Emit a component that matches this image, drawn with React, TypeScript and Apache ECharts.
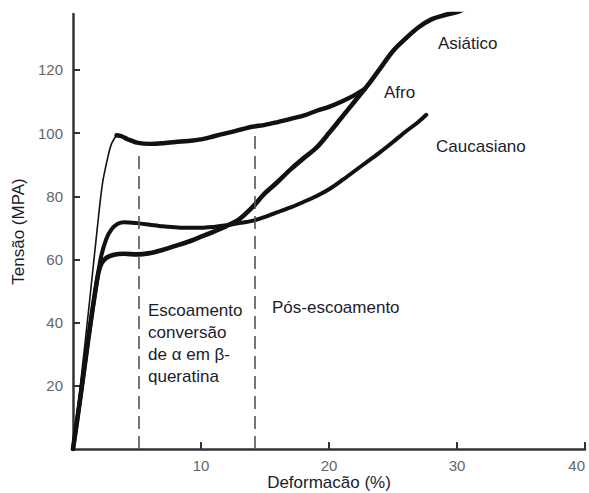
import React, { useEffect, useRef } from "react";
import * as echarts from "echarts";

// Stress–strain curves of hair fibres (strain %, stress MPa)
const afroRise: [number, number][] = [
  [0, 0], [0.6, 21], [1.3, 47], [1.9, 70], [2.3, 84], [2.7, 92], [3.0, 96.5], [3.4, 99.3],
];
const afroPlateau: [number, number][] = [
  [3.4, 99.3], [3.8, 99], [4.3, 98], [5, 97], [6, 96.6], [7, 96.8], [8, 97.2], [9, 97.5],
  [10, 98], [11, 99], [12, 100], [13, 101], [14, 102], [15, 102.6], [16, 103.5], [17, 104.5],
  [18, 105.5], [19, 107], [20, 108.3], [21, 110], [22, 112], [22.8, 114],
];
const asiatico: [number, number][] = [
  [0, 0], [0.6, 17], [1.2, 35], [1.9, 54], [2.2, 58.5], [2.6, 60.5], [3.2, 61.5], [4, 61.8],
  [5, 61.6], [6, 62], [7, 63], [8, 64.3], [9, 65.6], [10, 67.2], [11, 68.8], [12, 70.6],
  [13, 72.8], [14, 76.5], [15, 81], [16, 84.6], [17, 88.5], [18, 92], [19, 95.3], [20, 100],
  [21, 105], [22, 110], [23, 115], [24, 120.5], [25, 126], [26, 130], [27, 133.5], [28, 136],
  [29, 137.3], [30, 138.3], [30.4, 139],
];
const caucasiano: [number, number][] = [
  [0, 0], [0.6, 17], [1.2, 35], [1.9, 54], [2.2, 61], [2.6, 66.5], [3, 69.5], [3.5, 71.3],
  [4, 71.8], [5, 71.5], [6, 71], [7, 70.5], [8, 70.2], [9, 70], [10, 70], [11, 70.3],
  [12, 70.8], [13, 71.5], [14, 72.2], [15, 73.5], [16, 75], [17, 76.5], [18, 78.2], [19, 80],
  [20, 82.2], [21, 85], [22, 88], [23, 91], [24, 94], [25, 97.2], [26, 100.5], [27, 103.6],
  [27.6, 105.8],
];

// Phase boundaries (strain %) and the stress at which each dashed marker stops
const phaseBoundaries = [5.1, 14.2];
const phaseMarkerTops = [94, 100.5];

const xTickValues = [10, 20, 30, 40];
const yTickValues = [20, 40, 60, 80, 100, 120];

const FONT = "'Liberation Sans', Arial, sans-serif";
const TEXT = "#1c1c2c";
const INK = "#111";

export default function App() {
  const ref = useRef<HTMLDivElement>(null);

  useEffect(() => {
    if (!ref.current) return;
    const chart = echarts.init(ref.current, undefined, { renderer: "svg" });

    const lineSeries = (name: string, data: [number, number][], width: number, extra: any = {}) => ({
      name,
      type: "line",
      data,
      showSymbol: false,
      symbol: "none",
      smooth: 0.3,
      lineStyle: { color: INK, width, cap: "round", join: "round" },
      z: 3,
      ...extra,
    });

    chart.setOption({
      animation: false,
      backgroundColor: "#fff",
      grid: { left: 73, right: 4, top: 14, bottom: 44, containLabel: false, outerBoundsMode: "none" },
      xAxis: {
        type: "value",
        min: 0,
        max: 40,
        name: "Deformacão (%)",
        nameLocation: "middle",
        nameGap: 25,
        nameMoveOverlap: false,
        nameTextStyle: { fontFamily: FONT, fontSize: 17, color: TEXT },
        axisLine: { show: true, lineStyle: { color: "#333", width: 2.5 } },
        axisTick: { show: true, inside: true, length: 7, customValues: xTickValues, lineStyle: { color: "#333", width: 2 } },
        axisLabel: {
          customValues: xTickValues,
          alignMaxLabel: "right",
          fontFamily: FONT,
          fontSize: 15,
          color: "#666",
          margin: 9,
        },
        splitLine: { show: false },
      },
      yAxis: {
        type: "value",
        min: 0,
        max: 137.7,
        name: "Tensão (MPA)",
        nameLocation: "middle",
        nameGap: 46,
        nameRotate: 90,
        nameMoveOverlap: false,
        nameTextStyle: { fontFamily: FONT, fontSize: 17, color: TEXT },
        axisLine: { show: true, lineStyle: { color: "#333", width: 2.5 } },
        axisTick: { show: true, inside: true, length: 7, customValues: yTickValues, lineStyle: { color: "#333", width: 2 } },
        axisLabel: { customValues: yTickValues, fontFamily: FONT, fontSize: 15, color: "#666", margin: 10 },
        splitLine: { show: false },
      },
      series: [
        lineSeries("Afro", afroRise, 1.6, {
          markLine: {
            silent: true,
            symbol: "none",
            label: { show: false },
            lineStyle: { color: "#555", width: 1.6, type: [13, 7] },
            data: phaseBoundaries.map((x, i) => [
              { coord: [x, 0] },
              { coord: [x, phaseMarkerTops[i]] },
            ]),
          },
        }),
        lineSeries("Afro", afroPlateau, 4.4),
        lineSeries("Asiático", asiatico, 4.6),
        lineSeries("Caucasiano", caucasiano, 4),
      ],
      graphic: [
        { type: "text", left: 438, top: 35, style: { text: "Asiático", font: `17px ${FONT}`, fill: TEXT } },
        { type: "text", left: 384, top: 84, style: { text: "Afro", font: `17px ${FONT}`, fill: TEXT } },
        { type: "text", left: 436, top: 138, style: { text: "Caucasiano", font: `17px ${FONT}`, fill: TEXT } },
        {
          type: "text",
          left: 148,
          top: 299,
          style: {
            text: "Escoamento\nconversão\nde α em β-\nqueratina",
            font: `17px ${FONT}`,
            lineHeight: 22,
            fill: TEXT,
          },
        },
        { type: "text", left: 272, top: 299, style: { text: "Pós-escoamento", font: `17px ${FONT}`, fill: TEXT } },
      ],
    });

    return () => chart.dispose();
  }, []);

  return (
    <div
      ref={ref}
      style={{ position: "fixed", left: 0, top: 0, width: 589, height: 493, background: "#fff" }}
    />
  );
}
